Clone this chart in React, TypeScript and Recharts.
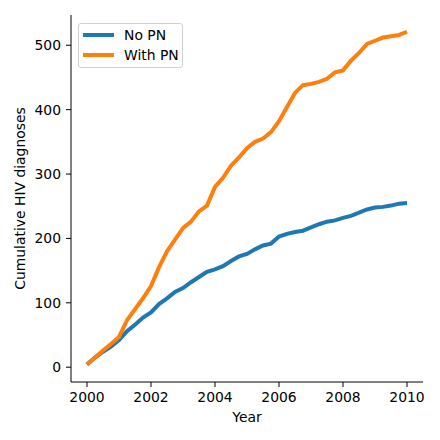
import React from 'react';
import { LineChart, Line, XAxis, YAxis } from 'recharts';

const years = [
  2000, 2000.25, 2000.5, 2000.75, 2001, 2001.25, 2001.5, 2001.75,
  2002, 2002.25, 2002.5, 2002.75, 2003, 2003.25, 2003.5, 2003.75,
  2004, 2004.25, 2004.5, 2004.75, 2005, 2005.25, 2005.5, 2005.75,
  2006, 2006.25, 2006.5, 2006.75, 2007, 2007.25, 2007.5, 2007.75,
  2008, 2008.25, 2008.5, 2008.75, 2009, 2009.25, 2009.5, 2009.75, 2010,
];

const noPN = [
  4, 15, 24, 32, 42, 56, 66, 77,
  85, 98, 107, 117, 123, 132, 140, 148,
  152, 157, 165, 172, 176, 183, 189, 192,
  203, 207, 210, 212, 217, 222, 226, 228,
  232, 235, 240, 245, 248, 249, 251, 254, 255,
];

const withPN = [
  4, 15, 26, 36, 47, 73, 90, 107,
  126, 155, 180, 198, 216, 226, 242, 251,
  280, 294, 313, 326, 340, 350, 355, 365,
  382, 404, 426, 438, 440, 443, 448, 458,
  461, 476, 488, 502, 507, 512, 514, 516, 521,
];

const xTicks = [2000, 2002, 2004, 2006, 2008, 2010];
const yTicks = [0, 100, 200, 300, 400, 500];

const seriesNames = { noPN: 'No PN', withPN: 'With PN' };
const colors = { noPN: '#1f77b4', withPN: '#ff7f0e' };

const data = years.map((y, i) => ({ year: y, noPN: noPN[i], withPN: withPN[i] }));

const FONT = '"DejaVu Sans", sans-serif';
const FS = 13.9;

const LegendBox = () => (
  <div
    style={{
      position: 'absolute',
      left: 70,
      top: 15,
      width: 103,
      height: 43,
      border: '1px solid #d0d0d0',
      borderRadius: 3,
      background: 'rgba(255,255,255,0.8)',
      fontFamily: FONT,
      fontSize: FS,
      color: '#000',
    }}
  >
    {(['noPN', 'withPN'] as const).map((k, i) => (
      <div key={k} style={{ position: 'absolute', left: 4, top: 2 + i * 20, height: 18, display: 'flex', alignItems: 'center' }}>
        <div style={{ width: 31, height: 4, background: colors[k] }} />
        <span style={{ marginLeft: 10, lineHeight: '18px', whiteSpace: 'nowrap' }}>{seriesNames[k]}</span>
      </div>
    ))}
  </div>
);

export default function App() {
  return (
    <div style={{ width: 432, height: 432, position: 'relative' }}>
      <LineChart width={432} height={432} data={data} margin={{ top: 7, right: 17, bottom: 0, left: 0 }}>
        <XAxis
          dataKey="year"
          type="number"
          domain={[1999.5, 2010.5]}
          ticks={xTicks}
          allowDataOverflow
          height={58}
          tickSize={5}
          tickMargin={5}
          stroke="#000"
          tick={{ fill: '#000', fontFamily: FONT, fontSize: FS }}
          tickLine={{ stroke: '#000' }}
          label={{
            content: ({ viewBox }: any) => (
              <text x={viewBox.x + viewBox.width / 2} y={414} textAnchor="middle" fontFamily={FONT} fontSize={FS} fill="#000">
                Year
              </text>
            ),
          }}
        />
        <YAxis
          type="number"
          domain={[-23, 547]}
          ticks={yTicks}
          allowDataOverflow
          width={63}
          tickSize={5}
          tickMargin={5}
          stroke="#000"
          tick={{ fill: '#000', fontFamily: FONT, fontSize: FS }}
          tickLine={{ stroke: '#000' }}
          label={{
            content: ({ viewBox }: any) => {
              const cy = viewBox.y + viewBox.height / 2;
              return (
                <text x={12} y={cy} transform={`rotate(-90, 12, ${cy})`} textAnchor="middle" dominantBaseline="central" fontFamily={FONT} fontSize={FS} fill="#000">
                  Cumulative HIV diagnoses
                </text>
              );
            },
          }}
        />
        <Line type="linear" dataKey="noPN" name="No PN" stroke={colors.noPN} strokeWidth={4} dot={false} isAnimationActive={false} />
        <Line type="linear" dataKey="withPN" name="With PN" stroke={colors.withPN} strokeWidth={4} dot={false} isAnimationActive={false} />
      </LineChart>
      <LegendBox />
    </div>
  );
}
